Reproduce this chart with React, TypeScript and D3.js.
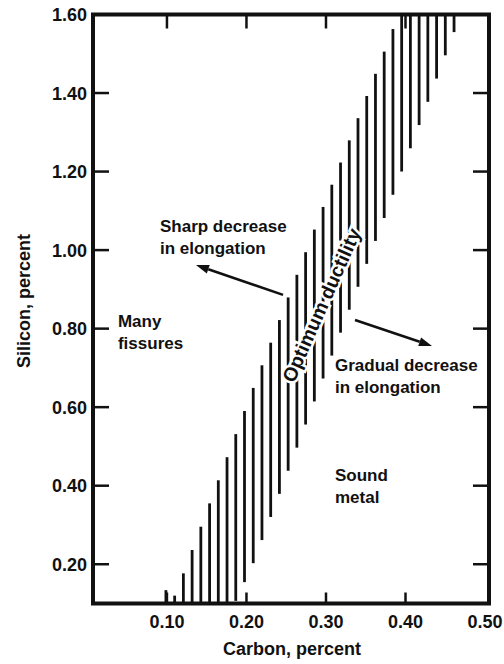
import React from 'react';
import * as d3 from 'd3';

const W = 504;
const H = 664;

const carbonTicks = [0.1, 0.2, 0.3, 0.4, 0.5];
const siliconTicks = [0.2, 0.4, 0.6, 0.8, 1.0, 1.2, 1.4, 1.6];

// left / upper boundary of the optimum-ductility band (carbon %, silicon %)
const upperEdgeCarbon = [0.0987, 0.1097, 0.1207, 0.1536, 0.2085, 0.2975, 0.377, 0.395];
const upperEdgeSilicon = [0.134, 0.12, 0.177, 0.355, 0.649, 1.116, 1.525, 1.62];
// right / lower boundary of the band
const lowerEdgeCarbon = [0.185, 0.208, 0.2845, 0.374, 0.461, 0.47];
const lowerEdgeSilicon = [0.1, 0.2, 0.61, 1.086, 1.555, 1.6];

// hatch spacing in carbon %
const hatchStart = 0.0987;
const hatchStep = 0.01098;
const hatchCount = 34;

const font = "'Liberation Sans', Arial, sans-serif";

const x = d3.scaleLinear().domain([0.007, 0.505]).range([93, 489]);
const y = d3.scaleLinear().domain([0.1, 1.6]).range([603.5, 14.5]);

const upperEdge = d3.scaleLinear().domain(upperEdgeCarbon).range(upperEdgeSilicon);
const lowerEdge = d3.scaleLinear().domain(lowerEdgeCarbon).range(lowerEdgeSilicon);

const Arrow = ({ from, to }: { from: [number, number]; to: [number, number] }) => {
  const x1 = x(from[0]), y1 = y(from[1]);
  const x2 = x(to[0]), y2 = y(to[1]);
  const a = Math.atan2(y2 - y1, x2 - x1);
  const len = 13, half = 4.5;
  const bx = x2 - len * Math.cos(a), by = y2 - len * Math.sin(a);
  const p = [
    [x2, y2],
    [bx - half * Math.sin(a), by + half * Math.cos(a)],
    [bx + half * Math.sin(a), by - half * Math.cos(a)],
  ];
  return (
    <g>
      <line x1={x1} y1={y1} x2={bx} y2={by} stroke="#111" strokeWidth={2.6} />
      <polygon points={p.map((d) => d.join(',')).join(' ')} fill="#111" />
    </g>
  );
};

const Label = ({ c, si, lines }: { c: number; si: number; lines: string[] }) => (
  <text x={x(c)} y={y(si)} fontFamily={font} fontWeight="bold" fontSize={17} fill="#111">
    {lines.map((l, i) => (
      <tspan key={i} x={x(c)} dy={i === 0 ? 0 : 22}>
        {l}
      </tspan>
    ))}
  </text>
);

export default function App() {
  const hatches = d3.range(hatchCount).map((k) => hatchStart + k * hatchStep);
  const [x0, x1] = x.range();
  const [y0, y1] = y.range();

  return (
    <svg
      width={W}
      height={H}
      style={{ position: 'absolute', left: 0, top: 0, background: '#fff' }}
    >
      {/* hatched band */}
      <g stroke="#111" strokeWidth={2.8}>
        {hatches.map((c, i) => {
          const top = Math.min(1.6, upperEdge(c));
          const bot = Math.max(0.1, lowerEdge(c));
          if (top <= bot) return null;
          return <line key={i} x1={x(c)} x2={x(c)} y1={y(top)} y2={y(bot)} />;
        })}
      </g>

      {/* ticks */}
      <g stroke="#111" strokeWidth={2.5}>
        {siliconTicks.filter((t) => t < 1.6).map((t) => (
          <g key={t}>
            <line x1={x0} x2={x0 + 16} y1={y(t)} y2={y(t)} />
            <line x1={x1} x2={x1 - 16} y1={y(t)} y2={y(t)} />
          </g>
        ))}
        {carbonTicks.filter((t) => t < 0.5).map((t) => (
          <g key={t}>
            <line x1={x(t)} x2={x(t)} y1={y0} y2={y0 - 11} />
            <line x1={x(t)} x2={x(t)} y1={y1} y2={y1 + 14} />
          </g>
        ))}
      </g>

      {/* frame */}
      <rect x={x0} y={y1} width={x1 - x0} height={y0 - y1} fill="none" stroke="#111" strokeWidth={4} />

      {/* tick labels */}
      <g fontFamily={font} fontWeight="bold" fontSize={18} fill="#111">
        {siliconTicks.map((t) => (
          <text key={t} x={x0 - 6} y={y(t) + 6.5} textAnchor="end">
            {t.toFixed(2)}
          </text>
        ))}
        {carbonTicks.map((t) => (
          <text key={t} x={x(t)} y={628} textAnchor="middle">
            {t.toFixed(2)}
          </text>
        ))}
        <text x={292} y={655} textAnchor="middle">
          Carbon, percent
        </text>
        <text transform="translate(30,301) rotate(-90)" textAnchor="middle">
          Silicon, percent
        </text>
      </g>

      {/* annotations */}
      <Label c={0.0912} si={1.046} lines={['Sharp decrease', 'in elongation']} />
      <Label c={0.0384} si={0.804} lines={['Many', 'fissures']} />
      <Label c={0.3113} si={0.692} lines={['Gradual decrease', 'in elongation']} />
      <Label c={0.3113} si={0.413} lines={['Sound', 'metal']} />
      <Arrow from={[0.246, 0.886]} to={[0.1365, 0.962]} />
      <Arrow from={[0.3365, 0.822]} to={[0.4333, 0.756]} />
      <text
        transform={`translate(${x(0.294)},${y(0.86)}) rotate(-66)`}
        textAnchor="middle"
        dominantBaseline="central"
        fontFamily={font}
        fontWeight="bold"
        fontSize={19.5}
        fill="#111"
        stroke="#fff"
        strokeWidth={5}
        paintOrder="stroke"
      >
        Optimum ductility
      </text>
    </svg>
  );
}
